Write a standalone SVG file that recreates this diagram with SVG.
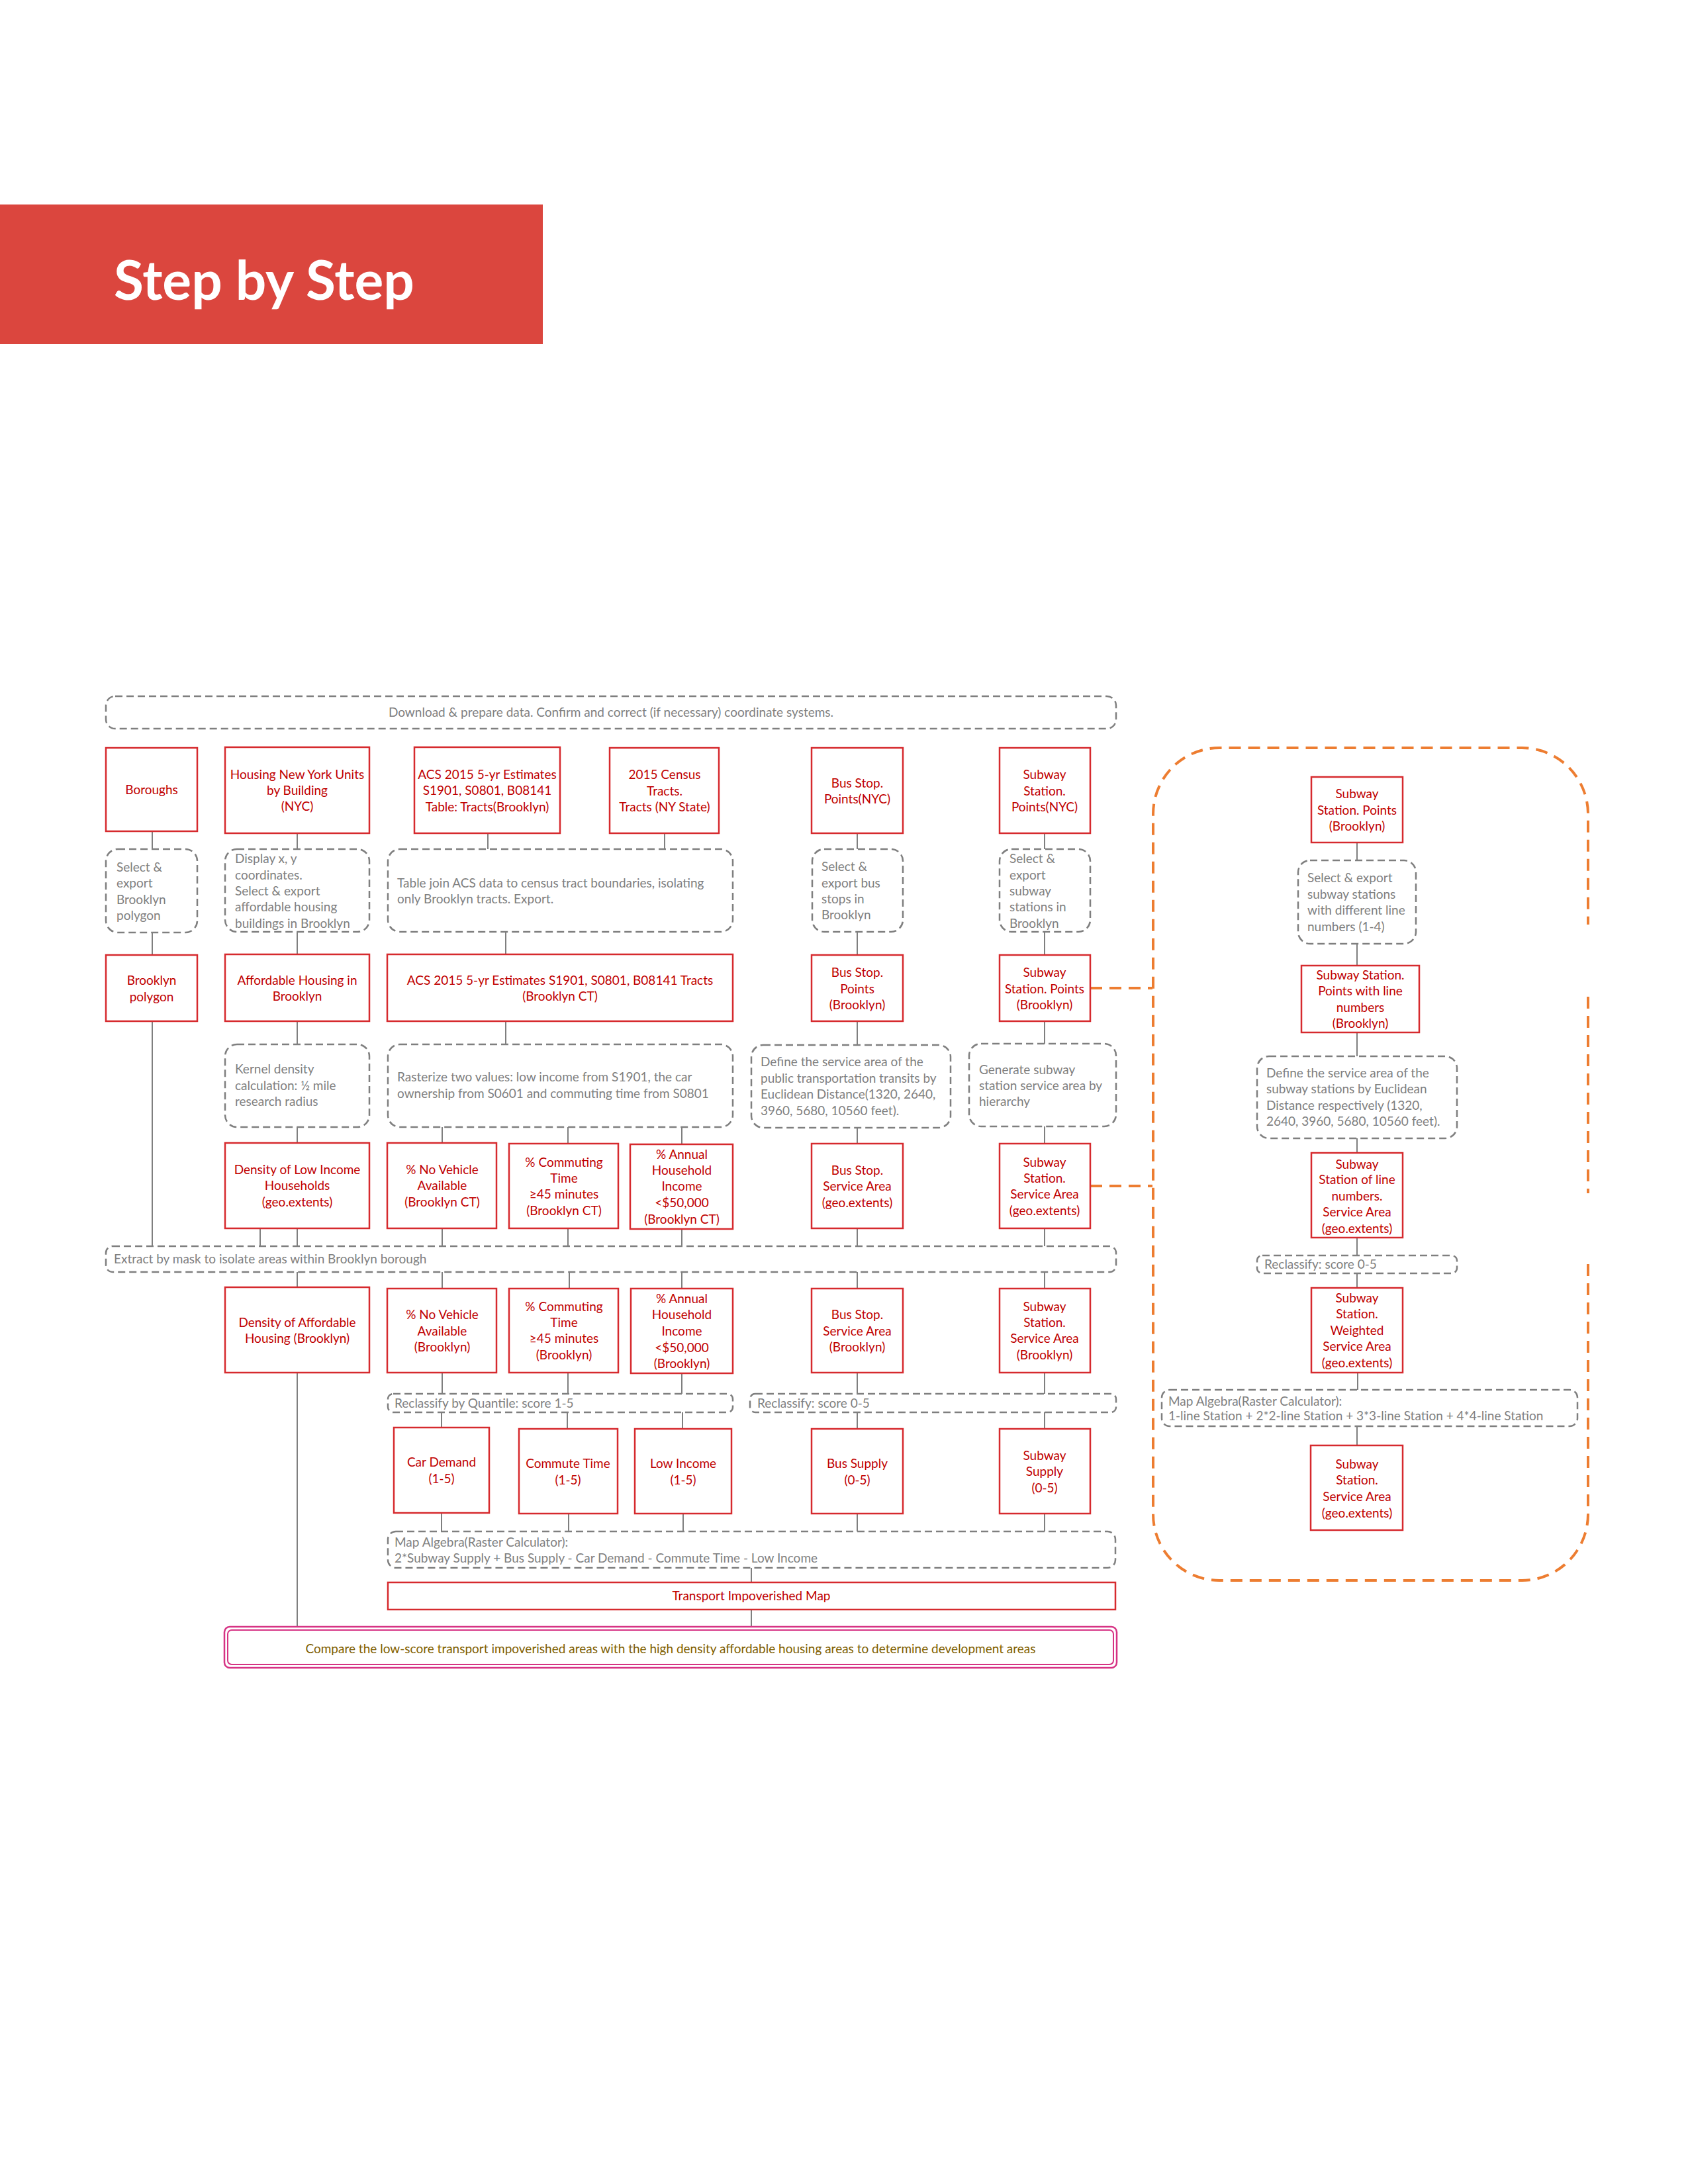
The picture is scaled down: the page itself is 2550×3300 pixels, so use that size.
<svg xmlns="http://www.w3.org/2000/svg" width="2550" height="3300" viewBox="0 0 2550 3300">
<style>
.rb{fill:#fff;stroke:#d62a2e;stroke-width:2.5}
.rt{font-family:Lato,'Liberation Sans',sans-serif;font-size:19px;fill:#c00000;text-anchor:middle}
.db{fill:none;stroke:#7f7f7f;stroke-width:2.5;stroke-dasharray:11 6}
.gt{font-family:Lato,'Liberation Sans',sans-serif;font-size:19px;fill:#808080}
.ln{fill:none;stroke:#7f7f7f;stroke-width:2}
.or{fill:none;stroke:#ed7d31;stroke-width:4;stroke-dasharray:18 11}
</style>
<rect width="2550" height="3300" fill="#fff"/>
<g id="header">
<rect x="0" y="309" width="820" height="211" fill="#db463e"/>
<text x="172" y="453" font-family="Lato,'Liberation Sans',sans-serif" font-weight="bold" font-size="82" fill="#fff">Step by Step</text>
</g>
<g id="panel">
<path class="or" d="M2399,1910 L2399,2288 A100,100 0 0 1 2299,2388 L1842,2388 A100,100 0 0 1 1742,2288 L1742,1230 A100,100 0 0 1 1842,1130 L2299,1130 A100,100 0 0 1 2399,1230 L2399,1397 M2399,1506 L2399,1803"/>
</g>
<g id="connectors">
<path class="ln" d="M230,1256V1283M230,1409V1443M230,1543V1883
M449,1259V1283M449,1408V1442M449,1543V1578M449,1703V1727M449,1856V1883M449,1922V1945M449,2074V2458M393,1856V1883
M737,1259V1283M1004,1259V1283M764,1408V1442M764,1543V1578
M668,1703V1727M668,1856V1883M668,1922V1947M668,2074V2106M667,2134V2157M667,2286V2314
M858,1703V1728M858,1856V1883M860,1922V1947M858,2074V2106M857,2134V2159M859,2287V2314
M1030,1703V1729M1030,1857V1883M1030,1922V1947M1030,2075V2106M1031,2134V2159M1032,2287V2314
M1295,1259V1283M1295,1408V1443M1295,1543V1579M1295,1704V1728M1295,1856V1883M1295,1922V1947M1295,2074V2106M1295,2134V2159M1295,2287V2314
M1578,1259V1283M1578,1408V1443M1578,1543V1577M1578,1702V1728M1578,1856V1883M1578,1922V1947M1578,2074V2106M1578,2134V2159M1578,2287V2314
M1135,2369V2391M1135,2432V2458
M2050,1273V1300M2050,1426V1459M2050,1560V1596M2050,1720V1742M2050,1870V1897M2050,1924V1946M2051,2074V2100M2050,2155V2184"/>
<path class="or" d="M1647,1493H1741M1647,1792H1741"/>
</g>
<g id="d1"><rect class="db" x="160" y="1052" width="1526" height="49" rx="14"/><text class="gt" x="923" y="1083" text-anchor="middle">Download &amp; prepare data. Confirm and correct (if necessary) coordinate systems.</text></g>
<g id="n1"><rect class="rb" x="160" y="1130" width="138" height="126"/><text class="rt" x="229" y="1200">Boroughs</text></g>
<g id="n2"><rect class="rb" x="340" y="1129" width="218" height="130"/><text class="rt" x="449"><tspan x="449" y="1177">Housing New York Units</tspan><tspan x="449" y="1201">by Building</tspan><tspan x="449" y="1225">(NYC)</tspan></text></g>
<g id="n3"><rect class="rb" x="626" y="1129" width="220" height="130"/><text class="rt"><tspan x="736" y="1177">ACS 2015 5-yr Estimates</tspan><tspan x="736" y="1201">S1901, S0801, B08141</tspan><tspan x="736" y="1226">Table: Tracts(Brooklyn)</tspan></text></g>
<g id="n4"><rect class="rb" x="921" y="1130" width="165" height="129"/><text class="rt"><tspan x="1004" y="1177">2015 Census</tspan><tspan x="1004" y="1202">Tracts.</tspan><tspan x="1004" y="1226">Tracts (NY State)</tspan></text></g>
<g id="n5"><rect class="rb" x="1226" y="1130" width="138" height="129"/><text class="rt"><tspan x="1295" y="1190">Bus Stop.</tspan><tspan x="1295" y="1214">Points(NYC)</tspan></text></g>
<g id="n6"><rect class="rb" x="1510" y="1130" width="137" height="129"/><text class="rt"><tspan x="1578" y="1177">Subway</tspan><tspan x="1578" y="1202">Station.</tspan><tspan x="1578" y="1226">Points(NYC)</tspan></text></g>
<g id="d2"><rect class="db" x="160" y="1283" width="138" height="126" rx="18"/><text class="gt"><tspan x="176" y="1317">Select &amp;</tspan><tspan x="176" y="1341">export</tspan><tspan x="176" y="1366">Brooklyn</tspan><tspan x="176" y="1390">polygon</tspan></text></g>
<g id="d3"><rect class="db" x="340" y="1283" width="218" height="125" rx="18"/><text class="gt"><tspan x="355" y="1304">Display x, y</tspan><tspan x="355" y="1329">coordinates.</tspan><tspan x="355" y="1353">Select &amp; export</tspan><tspan x="355" y="1377">affordable housing</tspan><tspan x="355" y="1402">buildings in Brooklyn</tspan></text></g>
<g id="d4"><rect class="db" x="586" y="1283" width="521" height="125" rx="18"/><text class="gt"><tspan x="600" y="1341">Table join ACS data to census tract boundaries, isolating</tspan><tspan x="600" y="1365">only Brooklyn tracts. Export.</tspan></text></g>
<g id="d5"><rect class="db" x="1227" y="1283" width="137" height="125" rx="18"/><text class="gt"><tspan x="1241" y="1316">Select &amp;</tspan><tspan x="1241" y="1341">export bus</tspan><tspan x="1241" y="1365">stops in</tspan><tspan x="1241" y="1389">Brooklyn</tspan></text></g>
<g id="d6"><rect class="db" x="1510" y="1283" width="137" height="125" rx="18"/><text class="gt"><tspan x="1525" y="1304">Select &amp;</tspan><tspan x="1525" y="1329">export</tspan><tspan x="1525" y="1353">subway</tspan><tspan x="1525" y="1377">stations in</tspan><tspan x="1525" y="1402">Brooklyn</tspan></text></g>
<g id="n7"><rect class="rb" x="160" y="1443" width="138" height="100"/><text class="rt"><tspan x="229" y="1488">Brooklyn</tspan><tspan x="229" y="1513">polygon</tspan></text></g>
<g id="n8"><rect class="rb" x="340" y="1442" width="218" height="101"/><text class="rt"><tspan x="449" y="1488">Affordable Housing in</tspan><tspan x="449" y="1512">Brooklyn</tspan></text></g>
<g id="n9"><rect class="rb" x="585" y="1442" width="522" height="101"/><text class="rt"><tspan x="846" y="1488">ACS 2015 5-yr Estimates S1901, S0801, B08141 Tracts</tspan><tspan x="846" y="1512">(Brooklyn CT)</tspan></text></g>
<g id="n10"><rect class="rb" x="1226" y="1443" width="138" height="100"/><text class="rt"><tspan x="1295" y="1476">Bus Stop.</tspan><tspan x="1295" y="1501">Points</tspan><tspan x="1295" y="1525">(Brooklyn)</tspan></text></g>
<g id="n11"><rect class="rb" x="1510" y="1443" width="137" height="100"/><text class="rt"><tspan x="1578" y="1476">Subway</tspan><tspan x="1578" y="1501">Station. Points</tspan><tspan x="1578" y="1525">(Brooklyn)</tspan></text></g>
<g id="d7"><rect class="db" x="340" y="1578" width="218" height="125" rx="18"/><text class="gt"><tspan x="355" y="1622">Kernel density</tspan><tspan x="355" y="1647">calculation: ½ mile</tspan><tspan x="355" y="1671">research radius</tspan></text></g>
<g id="d8"><rect class="db" x="586" y="1578" width="521" height="125" rx="18"/><text class="gt"><tspan x="600" y="1634">Rasterize two values: low income from S1901, the car</tspan><tspan x="600" y="1659">ownership from S0601 and commuting time from S0801</tspan></text></g>
<g id="d9"><rect class="db" x="1135" y="1579" width="301" height="125" rx="18"/><text class="gt"><tspan x="1149" y="1611">Define the service area of the</tspan><tspan x="1149" y="1636">public transportation transits by</tspan><tspan x="1149" y="1660">Euclidean Distance(1320, 2640,</tspan><tspan x="1149" y="1685">3960, 5680, 10560 feet).</tspan></text></g>
<g id="d10"><rect class="db" x="1464" y="1577" width="222" height="125" rx="18"/><text class="gt"><tspan x="1479" y="1623">Generate subway</tspan><tspan x="1479" y="1647">station service area by</tspan><tspan x="1479" y="1671">hierarchy</tspan></text></g>
<g id="n12"><rect class="rb" x="340" y="1727" width="218" height="129"/><text class="rt"><tspan x="449" y="1774">Density of Low Income</tspan><tspan x="449" y="1798">Households</tspan><tspan x="449" y="1823">(geo.extents)</tspan></text></g>
<g id="n13"><rect class="rb" x="585" y="1727" width="165" height="129"/><text class="rt"><tspan x="668" y="1774">% No Vehicle</tspan><tspan x="668" y="1798">Available</tspan><tspan x="668" y="1823">(Brooklyn CT)</tspan></text></g>
<g id="n14"><rect class="rb" x="769" y="1728" width="165" height="128"/><text class="rt"><tspan x="852" y="1763">% Commuting</tspan><tspan x="852" y="1787">Time</tspan><tspan x="852" y="1811">≥45 minutes</tspan><tspan x="852" y="1836">(Brooklyn CT)</tspan></text></g>
<g id="n15"><rect class="rb" x="952" y="1729" width="155" height="128"/><text class="rt"><tspan x="1030" y="1751">% Annual</tspan><tspan x="1030" y="1775">Household</tspan><tspan x="1030" y="1799">Income</tspan><tspan x="1030" y="1824">&lt;$50,000</tspan><tspan x="1030" y="1849">(Brooklyn CT)</tspan></text></g>
<g id="n16"><rect class="rb" x="1226" y="1728" width="138" height="128"/><text class="rt"><tspan x="1295" y="1775">Bus Stop.</tspan><tspan x="1295" y="1799">Service Area</tspan><tspan x="1295" y="1824">(geo.extents)</tspan></text></g>
<g id="n17"><rect class="rb" x="1510" y="1728" width="137" height="128"/><text class="rt"><tspan x="1578" y="1763">Subway</tspan><tspan x="1578" y="1787">Station.</tspan><tspan x="1578" y="1811">Service Area</tspan><tspan x="1578" y="1836">(geo.extents)</tspan></text></g>
<g id="d11"><rect class="db" x="160" y="1883" width="1526" height="39" rx="10"/><text class="gt" x="172" y="1909">Extract by mask to isolate areas within Brooklyn borough</text></g>
<g id="n18"><rect class="rb" x="340" y="1945" width="218" height="129"/><text class="rt"><tspan x="449" y="2005">Density of Affordable</tspan><tspan x="449" y="2029">Housing (Brooklyn)</tspan></text></g>
<g id="n19"><rect class="rb" x="585" y="1947" width="165" height="127"/><text class="rt"><tspan x="668" y="1993">% No Vehicle</tspan><tspan x="668" y="2018">Available</tspan><tspan x="668" y="2042">(Brooklyn)</tspan></text></g>
<g id="n20"><rect class="rb" x="769" y="1947" width="165" height="127"/><text class="rt"><tspan x="852" y="1981">% Commuting</tspan><tspan x="852" y="2005">Time</tspan><tspan x="852" y="2029">≥45 minutes</tspan><tspan x="852" y="2054">(Brooklyn)</tspan></text></g>
<g id="n21"><rect class="rb" x="953" y="1947" width="154" height="128"/><text class="rt"><tspan x="1030" y="1969">% Annual</tspan><tspan x="1030" y="1993">Household</tspan><tspan x="1030" y="2018">Income</tspan><tspan x="1030" y="2043">&lt;$50,000</tspan><tspan x="1030" y="2067">(Brooklyn)</tspan></text></g>
<g id="n22"><rect class="rb" x="1226" y="1947" width="138" height="127"/><text class="rt"><tspan x="1295" y="1993">Bus Stop.</tspan><tspan x="1295" y="2018">Service Area</tspan><tspan x="1295" y="2042">(Brooklyn)</tspan></text></g>
<g id="n23"><rect class="rb" x="1510" y="1947" width="137" height="127"/><text class="rt"><tspan x="1578" y="1981">Subway</tspan><tspan x="1578" y="2005">Station.</tspan><tspan x="1578" y="2029">Service Area</tspan><tspan x="1578" y="2054">(Brooklyn)</tspan></text></g>
<g id="d12"><rect class="db" x="586" y="2106" width="521" height="28" rx="8"/><text class="gt" x="596" y="2127">Reclassify by Quantile: score 1-5</text></g>
<g id="d13"><rect class="db" x="1133" y="2106" width="553" height="28" rx="8"/><text class="gt" x="1144" y="2127">Reclassify: score 0-5</text></g>
<g id="n24"><rect class="rb" x="595" y="2157" width="144" height="129"/><text class="rt"><tspan x="667" y="2216">Car Demand</tspan><tspan x="667" y="2241">(1-5)</tspan></text></g>
<g id="n25"><rect class="rb" x="784" y="2159" width="149" height="128"/><text class="rt"><tspan x="858" y="2218">Commute Time</tspan><tspan x="858" y="2243">(1-5)</tspan></text></g>
<g id="n26"><rect class="rb" x="959" y="2159" width="146" height="128"/><text class="rt"><tspan x="1032" y="2218">Low Income</tspan><tspan x="1032" y="2243">(1-5)</tspan></text></g>
<g id="n27"><rect class="rb" x="1226" y="2159" width="138" height="128"/><text class="rt"><tspan x="1295" y="2218">Bus Supply</tspan><tspan x="1295" y="2243">(0-5)</tspan></text></g>
<g id="n28"><rect class="rb" x="1510" y="2159" width="137" height="128"/><text class="rt"><tspan x="1578" y="2206">Subway</tspan><tspan x="1578" y="2230">Supply</tspan><tspan x="1578" y="2255">(0-5)</tspan></text></g>
<g id="d14"><rect class="db" x="586" y="2314" width="1099" height="55" rx="12"/><text class="gt"><tspan x="596" y="2337">Map Algebra(Raster Calculator):</tspan><tspan x="596" y="2361">2*Subway Supply + Bus Supply - Car Demand - Commute Time - Low Income</tspan></text></g>
<g id="n29"><rect class="rb" x="586" y="2391" width="1099" height="41"/><text class="rt" x="1135" y="2418">Transport Impoverished Map</text></g>
<g id="n30"><rect x="339" y="2458" width="1348" height="62" rx="8" fill="#fff" stroke="#d63384" stroke-width="2.5"/><rect x="344" y="2463" width="1338" height="52" rx="6" fill="none" stroke="#d63384" stroke-width="2"/><text x="1013" y="2498" text-anchor="middle" font-family="Lato,'Liberation Sans',sans-serif" font-size="19" fill="#7f6000">Compare the low-score transport impoverished areas with the high density affordable housing areas to determine development areas</text></g>
<g id="r1"><rect class="rb" x="1981" y="1174" width="138" height="99"/><text class="rt"><tspan x="2050" y="1206">Subway</tspan><tspan x="2050" y="1231">Station. Points</tspan><tspan x="2050" y="1255">(Brooklyn)</tspan></text></g>
<g id="r2"><rect class="db" x="1961" y="1300" width="178" height="126" rx="18"/><text class="gt"><tspan x="1975" y="1333">Select &amp; export</tspan><tspan x="1975" y="1358">subway stations</tspan><tspan x="1975" y="1382">with different line</tspan><tspan x="1975" y="1407">numbers (1-4)</tspan></text></g>
<g id="r3"><rect class="rb" x="1966" y="1459" width="178" height="101"/><text class="rt"><tspan x="2055" y="1480">Subway Station.</tspan><tspan x="2055" y="1504">Points with line</tspan><tspan x="2055" y="1529">numbers</tspan><tspan x="2055" y="1553">(Brooklyn)</tspan></text></g>
<g id="r4"><rect class="db" x="1899" y="1596" width="302" height="124" rx="18"/><text class="gt"><tspan x="1913" y="1628">Define the service area of the</tspan><tspan x="1913" y="1652">subway stations by Euclidean</tspan><tspan x="1913" y="1677">Distance respectively (1320,</tspan><tspan x="1913" y="1701">2640, 3960, 5680, 10560 feet).</tspan></text></g>
<g id="r5"><rect class="rb" x="1981" y="1742" width="138" height="128"/><text class="rt"><tspan x="2050" y="1766">Subway</tspan><tspan x="2050" y="1789">Station of line</tspan><tspan x="2050" y="1814">numbers.</tspan><tspan x="2050" y="1838">Service Area</tspan><tspan x="2050" y="1863">(geo.extents)</tspan></text></g>
<g id="r6"><rect class="db" x="1899" y="1897" width="302" height="27" rx="8"/><text class="gt" x="1910" y="1917">Reclassify: score 0-5</text></g>
<g id="r7"><rect class="rb" x="1981" y="1946" width="138" height="128"/><text class="rt"><tspan x="2050" y="1968">Subway</tspan><tspan x="2050" y="1992">Station.</tspan><tspan x="2050" y="2017">Weighted</tspan><tspan x="2050" y="2041">Service Area</tspan><tspan x="2050" y="2066">(geo.extents)</tspan></text></g>
<g id="r8"><rect class="db" x="1755" y="2100" width="628" height="55" rx="12"/><text class="gt"><tspan x="1765" y="2124">Map Algebra(Raster Calculator):</tspan><tspan x="1765" y="2146">1-line Station + 2*2-line Station + 3*3-line Station + 4*4-line Station</tspan></text></g>
<g id="r9"><rect class="rb" x="1980" y="2184" width="139" height="128"/><text class="rt"><tspan x="2050" y="2219">Subway</tspan><tspan x="2050" y="2243">Station.</tspan><tspan x="2050" y="2268">Service Area</tspan><tspan x="2050" y="2293">(geo.extents)</tspan></text></g>
</svg>
